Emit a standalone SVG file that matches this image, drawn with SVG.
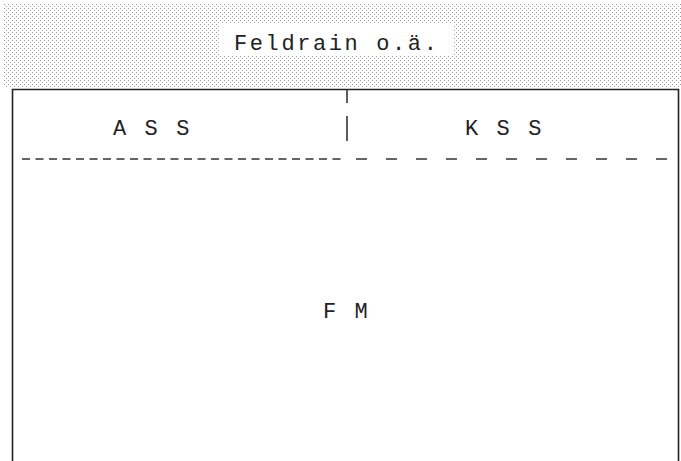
<svg xmlns="http://www.w3.org/2000/svg" width="681" height="461" viewBox="0 0 681 461">
<style>
.t{font-family:"Liberation Mono","DejaVu Sans Mono",monospace;font-size:22px;fill:#222;letter-spacing:2.6px}
.frame{fill:none;stroke:#222;stroke-width:1.6}
.div{stroke:#333;stroke-width:1.6}
</style>
<defs>
<pattern id="dots" width="4" height="4" patternUnits="userSpaceOnUse">
<rect x="0" y="0" width="1" height="1" fill="#999"/>
<rect x="2" y="2" width="1" height="1" fill="#aaa"/>
</pattern>
</defs>
<rect width="681" height="461" fill="#fff"/>
<g id="header">
<rect x="4" y="4" width="677" height="84" fill="url(#dots)"/>
<rect x="220" y="24" width="234" height="32" fill="#fff"/>
<text class="t" x="234" y="50">Feldrain o.ä.</text>
</g>
<g id="frame">
<path class="frame" d="M12.5,461 V89.5 H678.5 V461"/>
</g>
<g id="connectors">
<line class="div" x1="347" y1="89" x2="347" y2="103"/>
<line class="div" x1="347" y1="116" x2="347" y2="141"/>
<line class="div" x1="22" y1="159" x2="342" y2="159" stroke-dasharray="8,5.5"/>
<line class="div" x1="356" y1="159" x2="672" y2="159" stroke-dasharray="11,19"/>
</g>
<g id="ass"><text class="t" x="113" y="135">A S S</text></g>
<g id="kss"><text class="t" x="465" y="135">K S S</text></g>
<g id="fm"><text class="t" x="323" y="318">F M</text></g>
</svg>
